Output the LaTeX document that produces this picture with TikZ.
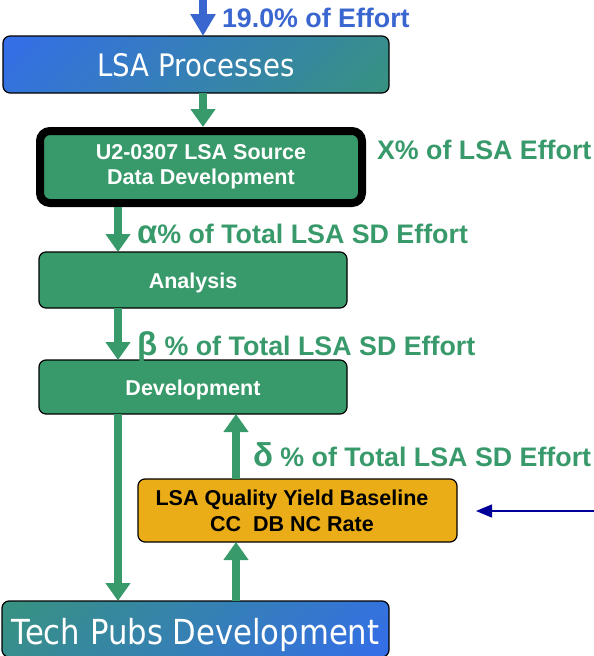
\documentclass[tikz,border=0pt]{standalone}
\usepackage{fontspec}
\setmainfont{Liberation Sans}
\newfontfamily\titlefont[FakeStretch=0.89]{DejaVu Sans}
\usetikzlibrary{arrows.meta}
\definecolor{flowgreen}{RGB}{56,154,106}
\definecolor{flowblue}{RGB}{58,102,208}
\definecolor{boxblue}{RGB}{51,102,255}
\definecolor{yieldorange}{RGB}{234,173,24}
\definecolor{navyline}{RGB}{0,0,153}
% blue-to-green ramp spread over the whole shading square
\pgfdeclareverticalshading{bluegreen}{100bp}{color(0bp)=(flowgreen); color(100bp)=(boxblue)}
\pgfdeclareverticalshading{greenblue}{100bp}{color(0bp)=(boxblue); color(100bp)=(flowgreen)}
\tikzset{
  every node/.style={inner sep=0pt, outer sep=0pt},
  gradbox/.style={draw=black, line width=1.2pt, rounded corners=7pt,
    text=white, font=\titlefont\fontsize{31}{36}\selectfont, shading angle=45},
  greenbox/.style={draw=black, line width=1.2pt, rounded corners=7pt,
    fill=flowgreen, text=white, align=center,
    font=\bfseries\fontsize{21.5}{25}\selectfont},
  yieldbox/.style={draw=black, line width=1.2pt, rounded corners=7pt,
    fill=yieldorange},
  yieldtext/.style={text=black, align=center,
    font=\bfseries\fontsize{21.5}{26}\selectfont},
  flowarrow/.style={draw=flowgreen, line width=8pt,
    -{Triangle[width=24pt,length=18pt]}},
  effortlabel/.style={anchor=base west, text=flowgreen,
    font=\bfseries\fontsize{26.8}{30}\selectfont}
}
% text whose baseline sits #1 below the box centre
\newcommand\drop[2]{\raisebox{-#1}[0pt][0pt]{#2}}
\newcommand\grk[1]{{\fontsize{33}{30}\selectfont #1}}
\begin{document}
\begin{tikzpicture}[x=1pt,y=-1pt]
\useasboundingbox (0,0) rectangle (594,656);

% process boxes
\node[gradbox, shading=bluegreen,
      minimum width=386pt, minimum height=57pt] (lsa) at (196,64.5)
      {\drop{12pt}{LSA Processes}};
\node[greenbox, line width=8pt, outer sep=4pt, rounded corners=10pt,
      minimum width=322pt, minimum height=72pt] (u2) at (201,167)
      {U2-0307 LSA Source\\Data Development};
\node[greenbox, minimum width=308pt, minimum height=56pt] (ana) at (193,280)
      {\drop{8.5pt}{Analysis}};
\node[greenbox, minimum width=308pt, minimum height=54pt] (dev) at (193,387)
      {\drop{8.5pt}{Development}};
\node[yieldbox, minimum width=319pt, minimum height=63pt] (qy) at (297.5,510.5) {};
\node[yieldtext] (qytext) at (292,510.5)
      {LSA Quality Yield Baseline\\CC\ \ DB NC Rate};
\node[gradbox, shading=greenblue, font=\titlefont\fontsize{34.5}{40}\selectfont,
      minimum width=387pt, minimum height=56pt] (tp) at (195.5,629)
      {\drop{15.5pt}{Tech Pubs Development}};

% incoming effort
\coordinate (topin) at (203,0);
\draw[draw=flowblue, line width=8pt, -{Triangle[width=24pt,length=22pt]}]
  (topin) -- (topin |- lsa.north);
\node[anchor=base west, text=flowblue, font=\bfseries\fontsize{26.8}{30}\selectfont]
  (eff) at (222,27) {19.0\% of Effort};

% flow between boxes
\draw[flowarrow] (lsa.south -| 203,0) -- (u2.north -| 203,0);
\draw[flowarrow] (u2.south -| 118,0) -- (ana.north -| 118,0);
\draw[flowarrow] (ana.south -| 118,0) -- (dev.north -| 118,0);
\draw[flowarrow] (dev.south -| 118,0) -- (tp.north -| 118,0);
\draw[flowarrow] (qy.north -| 236,0) -- (dev.south -| 236,0);
\draw[flowarrow] (tp.north -| 236,0) -- (qy.south -| 236,0);

% effort shares
\node[effortlabel] (xl) at (377,159) {X\% of LSA Effort};
\node[effortlabel] (al) at (137,243) {\grk{α}\% of Total LSA SD Effort};
\node[effortlabel] (bl) at (137,355) {\grk{β} \% of Total LSA SD Effort};
\node[effortlabel] (dl) at (253,466) {\grk{δ} \% of Total LSA SD Effort};

% external input to the yield baseline
\coordinate (navyin) at (596,511);
\draw[navyline, line width=1.5pt, -{Triangle[width=13pt,length=16pt]}]
  (navyin) -- ([xshift=19pt]qy.east |- navyin);
\end{tikzpicture}
\end{document}
